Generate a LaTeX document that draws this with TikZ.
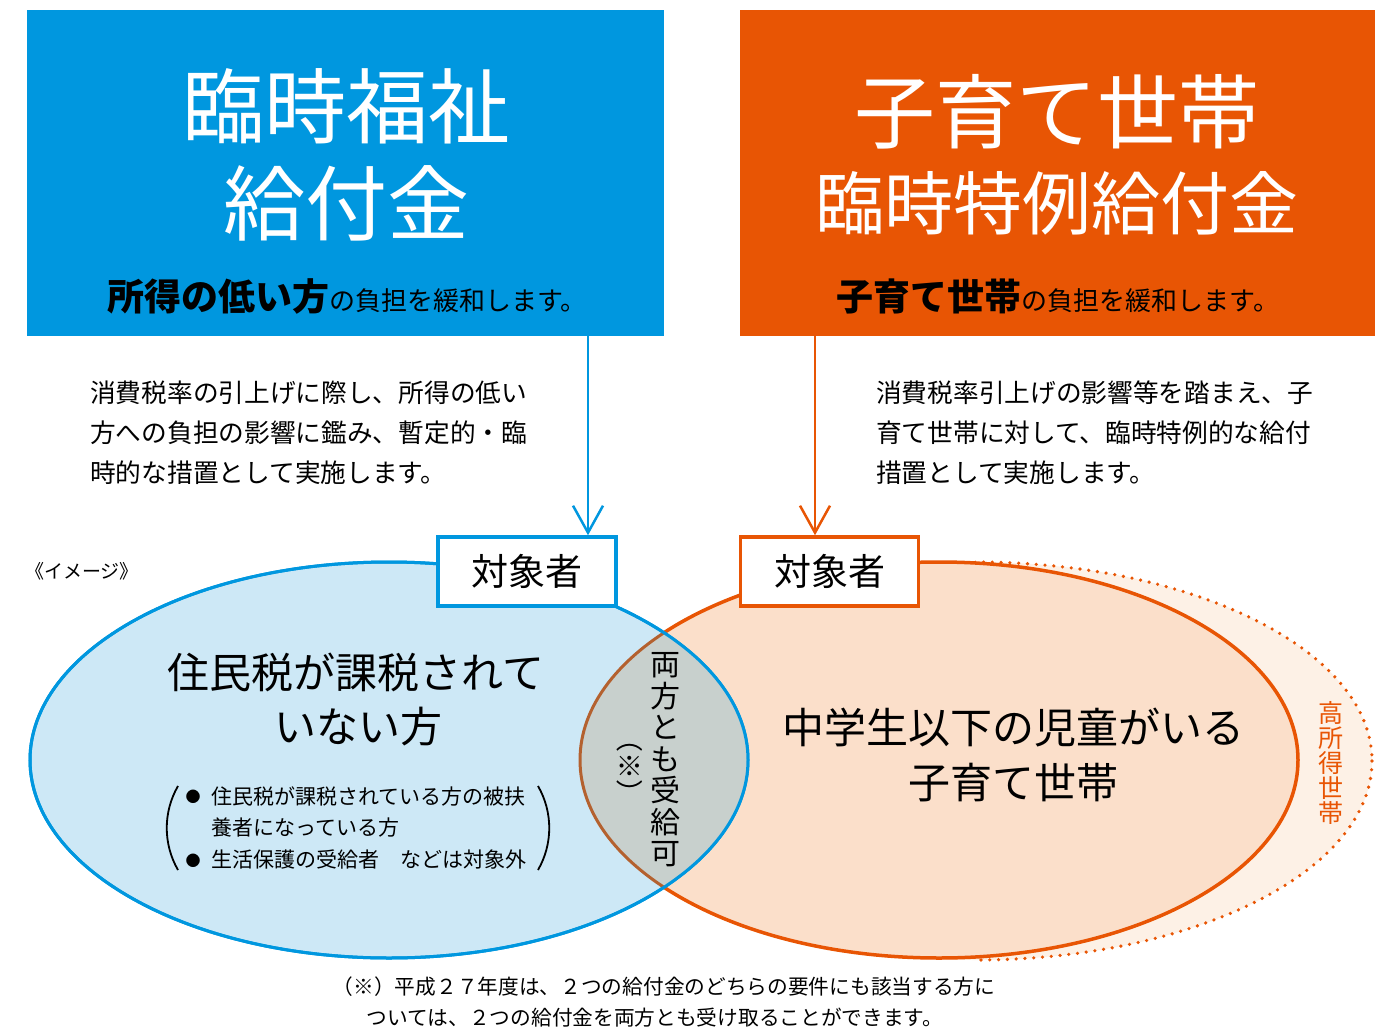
\documentclass[tikz,border=0pt]{standalone}
\usepackage{fontspec}
\setmainfont{Noto Sans CJK JP}
\usetikzlibrary{arrows.meta}
\definecolor{cblue}{HTML}{0097DF}
\definecolor{corange}{HTML}{E85504}
\definecolor{lblue}{HTML}{CDE8F6}
\definecolor{lorange}{HTML}{FBDFCA}
\definecolor{llorange}{HTML}{FDF1E6}
\definecolor{cgray}{HTML}{C8D0CD}
\definecolor{cbrown}{HTML}{B4612F}
\newcommand{\fs}[1]{\fontsize{#1}{#1}\selectfont}
\begin{document}
\begin{tikzpicture}[x=1pt,y=-1pt,
  txt/.style={inner sep=0pt, text=black},
  header/.style={inner sep=0pt, anchor=north west},
  tagbox/.style={draw=#1, line width=3.5pt, fill=white, minimum width=178pt, minimum height=69pt, inner sep=0pt, font=\fs{37}},
  conn/.style={line width=2.5pt, draw=#1, -{Straight Barb[length=27pt,width=30pt,line width=2.5pt]}},
  desc/.style={inner sep=0pt, anchor=west, font=\fs{25.7}},
  bul/.style={inner sep=0pt, anchor=west, font=\fs{21}},
]
\useasboundingbox (0,0) rectangle (1392,1030);
\fill[white] (0,0) rectangle (1392,1030);

% header boxes
\node[header, fill=cblue, minimum width=637pt, minimum height=326pt] (hb1) at (27,10) {};
\node[header, fill=corange, minimum width=635pt, minimum height=326pt] (hb2) at (740,10) {};

\node[txt, text=white, font=\fs{82}] (t1a) at (346,106) {臨時福祉};
\node[txt, text=white, font=\fs{82}] (t1b) at (346,203) {給付金};
\node[txt] (s1) at (347,296) {{\bfseries\fs{37}所得の低い方}{\fs{26}の負担を緩和します。}};

\node[txt, text=white, font=\fs{81}] (t2a) at (1057,112) {子育て世帯};
\node[txt, text=white, font=\fs{69}] (t2b) at (1057,203) {臨時特例給付金};
\node[txt] (s2) at (1058,296) {{\bfseries\fs{37}子育て世帯}{\fs{26}の負担を緩和します。}};

% descriptions
\node[desc] (d1a) at (90,393) {消費税率の引上げに際し、所得の低い};
\node[desc] (d1b) at (90,433) {方への負担の影響に鑑み、暫定的・臨};
\node[desc] (d1c) at (90,473) {時的な措置として実施します。};
\node[desc] (d2a) at (876,393) {消費税率引上げの影響等を踏まえ、子};
\node[desc] (d2b) at (876,433) {育て世帯に対して、臨時特例的な給付};
\node[desc] (d2c) at (876,473) {措置として実施します。};

\node[txt, anchor=west, font=\fs{19}] (img) at (25,571) {《イメージ》};

% high-income area
\fill[llorange] (975,761) ellipse [x radius=397, y radius=199];
\begin{scope}
  \clip (975,0) rectangle (1392,1030);
  \draw[corange, line width=3.6pt, line cap=round, dash pattern=on 0pt off 8.8pt] (975,761) ellipse [x radius=397, y radius=199];
\end{scope}

% orange ellipse
\draw[fill=lorange, draw=corange, line width=3.5pt] (939,760) ellipse [x radius=359, y radius=198];
% blue ellipse
\draw[fill=lblue, draw=cblue, line width=3pt] (389,760) ellipse [x radius=359, y radius=198];
% intersection
\begin{scope}
  \clip (389,760) ellipse [x radius=359, y radius=198];
  \fill[cgray] (939,760) ellipse [x radius=359, y radius=198];
  \draw[cbrown, line width=3pt] (939,760) ellipse [x radius=359, y radius=198];
\end{scope}
\draw[cblue, line width=3pt] (389,760) ellipse [x radius=359, y radius=198];

% tag boxes
\node[tagbox=cblue] (tg1) at (527,571.5) {対象者};
\node[tagbox=corange] (tg2) at (829.5,571.5) {対象者};

% connectors
\coordinate (a1) at (588,336);
\coordinate (a2) at (815,336);
\draw[conn=cblue] (a1) -- (a1 |- tg1.north);
\draw[conn=corange] (a2) -- (a2 |- tg2.north);

% blue ellipse texts
\node[txt, font=\fs{42}] (b1) at (356,672) {住民税が課税されて};
\node[txt, font=\fs{42}] (b2) at (358,727) {いない方};
\node[txt, font=\fs{15}] (bu1) at (193,797) {●};
\node[bul] (l1) at (211,796) {住民税が課税されている方の被扶};
\node[bul] (l2) at (211,828) {養者になっている方};
\node[txt, font=\fs{15}] (bu2) at (193,861) {●};
\node[bul] (l3) at (211,860) {生活保護の受給者　などは対象外};
\draw[line width=1.8pt] (178,786) .. controls (163,812) and (163,844) .. (178,870);
\draw[line width=1.8pt] (538,786) .. controls (553,812) and (553,844) .. (538,870);

% intersection texts
\node[txt, align=center, font=\fontsize{30}{31.5}\selectfont] (both) at (665,760) {両\\方\\と\\も\\受\\給\\可};
\node[txt, rotate=-90, font=\fs{27}] (note) at (630,766) {（※）};

% orange ellipse texts
\node[txt, font=\fs{42}] (o1) at (1013,728) {中学生以下の児童がいる};
\node[txt, font=\fs{42}] (o2) at (1013,783) {子育て世帯};
\node[txt, text=corange, align=center, font=\fontsize{25}{25}\selectfont] (hi) at (1331,763) {高\\所\\得\\世\\帯};

% footnote
\node[txt, font=\fs{20.7}] (f1) at (664,987) {（※）平成２７年度は、２つの給付金のどちらの要件にも該当する方に};
\node[txt, font=\fs{20.7}] (f2) at (655,1018) {ついては、２つの給付金を両方とも受け取ることができます。};
\end{tikzpicture}
\end{document}
